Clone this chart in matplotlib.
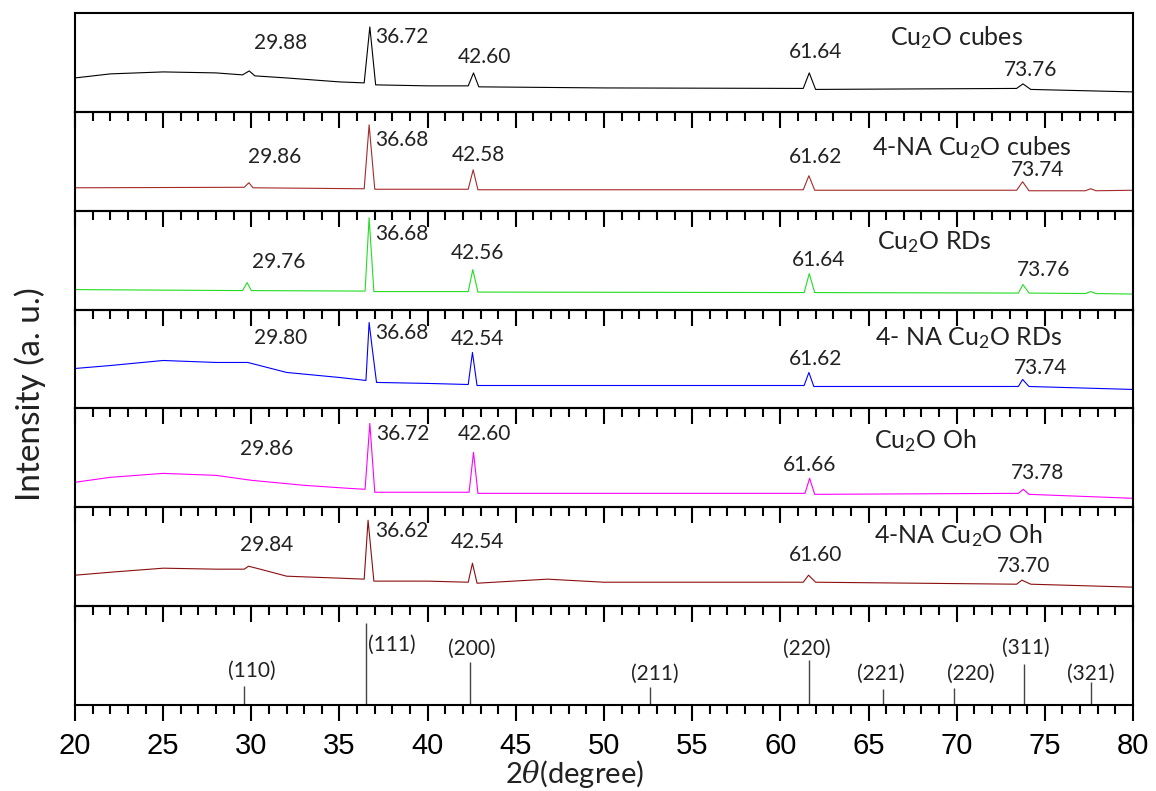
import numpy as np
import matplotlib
matplotlib.use("Agg")
import matplotlib.pyplot as plt

plt.rcParams['mathtext.fontset'] = 'custom'
plt.rcParams['mathtext.rm'] = 'Lato'
plt.rcParams['mathtext.it'] = 'DejaVu Serif:italic'
plt.rcParams['mathtext.default'] = 'regular'

# ---- data (2theta, relative intensity, panel scale 0..100) ----
x_cubes = [20, 22, 25, 28, 29.5, 29.88, 30.2, 32, 35, 36.4, 36.72, 37.05, 40, 42.3, 42.6, 42.9,
           50, 61.3, 61.64, 62.0, 73.4, 73.76, 74.2, 80]
y_cubes = [34.3, 38.4, 40.4, 39.4, 37.4, 41.4, 36.4, 34.3, 30.3, 29.3, 85.9, 27.3, 26.3, 26.3, 39.4, 25.3,
           24.2, 23.7, 39.4, 22.7, 23.7, 28.3, 22.7, 20.2]

x_na_cubes = [20, 29.6, 29.86, 30.1, 36.4, 36.68, 37.0, 42.3, 42.58, 42.85, 61.3, 61.62, 61.95,
              73.4, 73.74, 74.1, 77.3, 77.6, 77.9, 80]
y_na_cubes = [23.2, 23.7, 28.3, 23.2, 22.2, 86.9, 21.7, 21.7, 41.4, 21.2, 21.2, 35.4, 20.7,
              20.7, 29.3, 20.2, 20.2, 22.2, 20.2, 20.7]

x_rds = [20, 29.5, 29.76, 30.0, 36.45, 36.68, 36.95, 42.3, 42.56, 42.85, 61.35, 61.64, 61.95,
         73.5, 73.76, 74.1, 77.3, 77.6, 77.9, 80]
y_rds = [20.2, 19.2, 27.3, 19.2, 18.7, 92.9, 18.2, 18.2, 40.4, 17.7, 17.2, 36.4, 17.2,
         16.7, 25.3, 16.7, 16.2, 18.2, 16.2, 15.7]

x_na_rds = [20, 22, 25, 28, 29.8, 32, 35, 36.5, 36.68, 36.85, 37.1, 40, 42.3, 42.54, 42.8,
            50, 61.35, 61.62, 61.9, 73.5, 73.74, 74.1, 80]
y_na_rds = [40.4, 43.4, 48.5, 46.5, 46.5, 36.4, 31.3, 28.3, 86.9, 61.6, 26.3, 25.3, 24.2, 56.6, 23.2,
            23.2, 23.2, 36.4, 22.2, 22.2, 29.3, 22.2, 19.2]

x_oh = [20, 22, 25, 28, 30, 33, 35.5, 36.45, 36.72, 37.0, 40, 42.35, 42.6, 42.85,
        50, 61.4, 61.66, 61.95, 73.5, 73.78, 74.1, 80]
y_oh = [25.3, 30.3, 34.3, 32.3, 27.3, 22.2, 19.2, 18.2, 84.8, 15.2, 15.2, 15.2, 55.6, 14.1,
        14.1, 14.1, 29.3, 13.1, 14.1, 18.2, 13.1, 9.1]

x_na_oh = [20, 22, 25, 28, 29.6, 29.84, 30.5, 32, 35, 36.4, 36.62, 36.95, 40, 42.3, 42.54, 42.8,
           46.8, 50, 61.3, 61.6, 62.0, 73.4, 73.7, 74.2, 80]
y_na_oh = [31.3, 34.3, 38.4, 37.4, 37.4, 40.4, 37.4, 30.3, 28.3, 27.3, 86.9, 25.3, 25.3, 24.2, 43.4, 23.2,
           27.3, 24.2, 24.2, 31.3, 24.2, 22.2, 26.3, 22.2, 19.2]

# reference pattern (sticks)
ref_pos = [29.6, 36.5, 42.4, 52.6, 61.6, 65.8, 69.85, 73.8, 77.6]
ref_int = [19, 83, 43, 18, 46, 16, 17, 41, 23]
ref_hkl = ['(110)', '(111)', '(200)', '(211)', '(220)', '(221)', '(220)', '(311)', '(321)']
ref_lab_x = [30.0, 36.6, 42.5, 52.9, 61.5, 65.7, 70.8, 73.9, 77.6]
ref_lab_y = [35, 61, 57, 32, 57, 32, 32, 58, 32]

names = ['Cu$_2$O cubes', '4-NA Cu$_2$O cubes', 'Cu$_2$O RDs', '4- NA Cu$_2$O RDs',
         'Cu$_2$O Oh', '4-NA Cu$_2$O Oh']
xs = [x_cubes, x_na_cubes, x_rds, x_na_rds, x_oh, x_na_oh]
ys = [y_cubes, y_na_cubes, y_rds, y_na_rds, y_oh, y_na_oh]
colors = ['black', '#a52a2a', '#22dd22', '#0000ff', '#ff00ff', '#8b0f0f']

peak_labels = [['29.88', '36.72', '42.60', '61.64', '73.76'],
               ['29.86', '36.68', '42.58', '61.62', '73.74'],
               ['29.76', '36.68', '42.56', '61.64', '73.76'],
               ['29.80', '36.68', '42.54', '61.62', '73.74'],
               ['29.86', '36.72', '42.60', '61.66', '73.78'],
               ['29.84', '36.62', '42.54', '61.60', '73.70']]
# label anchor positions (x in degree, y in panel units)
lab_x = [[31.68, 37.0, 43.2, 62.0, 74.2],
         [31.34, 37.0, 42.85, 61.97, 74.6],
         [31.57, 37.0, 42.85, 62.14, 74.95],
         [31.68, 37.0, 42.85, 61.97, 74.78],
         [30.89, 37.1, 43.2, 61.68, 74.6],
         [30.89, 37.0, 42.85, 61.97, 73.82]]
lab_y = [[69.7, 75.8, 55.6, 60.6, 42.4],
         [54.5, 71.7, 56.6, 54.5, 41.4],
         [48.5, 76.8, 57.6, 50.5, 40.4],
         [71.7, 76.8, 70.7, 50.5, 40.4],
         [58.6, 73.7, 73.7, 42.4, 34.3],
         [61.6, 75.8, 64.6, 51.5, 40.4]]
name_x = [70.0, 70.87, 68.72, 70.7, 68.2, 70.08]
name_y = [74.7, 63.6, 68.7, 70.7, 67.7, 71.7]

fig = plt.figure(figsize=(11.56, 7.91), dpi=100)
left, right = 75 / 1156, 1133 / 1156
top, bottom = 1 - 13 / 791, 1 - 705 / 791
n = 7
h = (top - bottom) / n

axes = []
for i in range(n):
    ax = fig.add_axes([left, top - (i + 1) * h, right - left, h])
    ax.patch.set_visible(False)
    ax.set_xlim(20, 80)
    ax.set_ylim(0, 100)
    ax.set_yticks([])
    ax.set_xticks(np.arange(20, 81, 5))
    ax.set_xticks(np.arange(20, 81, 1), minor=True)
    ax.tick_params(axis='x', which='major', direction='out', length=11.5, width=1.5)
    ax.tick_params(axis='x', which='minor', direction='out', length=6.5, width=1.5)
    for s in ax.spines.values():
        s.set_linewidth(1.5)
    if i < n - 1:
        ax.tick_params(axis='x', labelbottom=False)
    axes.append(ax)

for i in range(6):
    ax = axes[i]
    ax.plot(xs[i], ys[i], color=colors[i], lw=0.8)
    for j, t in enumerate(peak_labels[i]):
        ha = 'left' if j == 1 else 'center'
        ax.text(lab_x[i][j], lab_y[i][j], t, ha=ha, va='center', fontsize=15,
                family='Lato', color='#222222')
    ax.text(name_x[i], name_y[i], names[i], ha='center', va='center', fontsize=18,
            family='Lato', color='#222222')

ax = axes[6]
ax.vlines(ref_pos, 0, ref_int, color='#444444', lw=1.0)
for xp, yp, t in zip(ref_lab_x, ref_lab_y, ref_hkl):
    ha = 'left' if t == '(111)' else 'center'
    ax.text(xp, yp, t, ha=ha, va='center', fontsize=15, family='Lato', color='#222222')

ax.tick_params(axis='x', which='major', labelsize=21, pad=8)
for lab in ax.get_xticklabels():
    lab.set_family('Liberation Sans')

fig.text(574 / 1156, 1 - 774 / 791, r'2$\mathit{\theta}$(degree)', ha='center', va='center',
         fontsize=21, family='Lato', color='#222222')
fig.text(0.026, 1 - 394 / 791, 'Intensity (a. u.)', rotation=90, ha='center',
         va='center', fontsize=24, family='Lato', color='#222222')

fig.savefig('out.png', dpi=100)
